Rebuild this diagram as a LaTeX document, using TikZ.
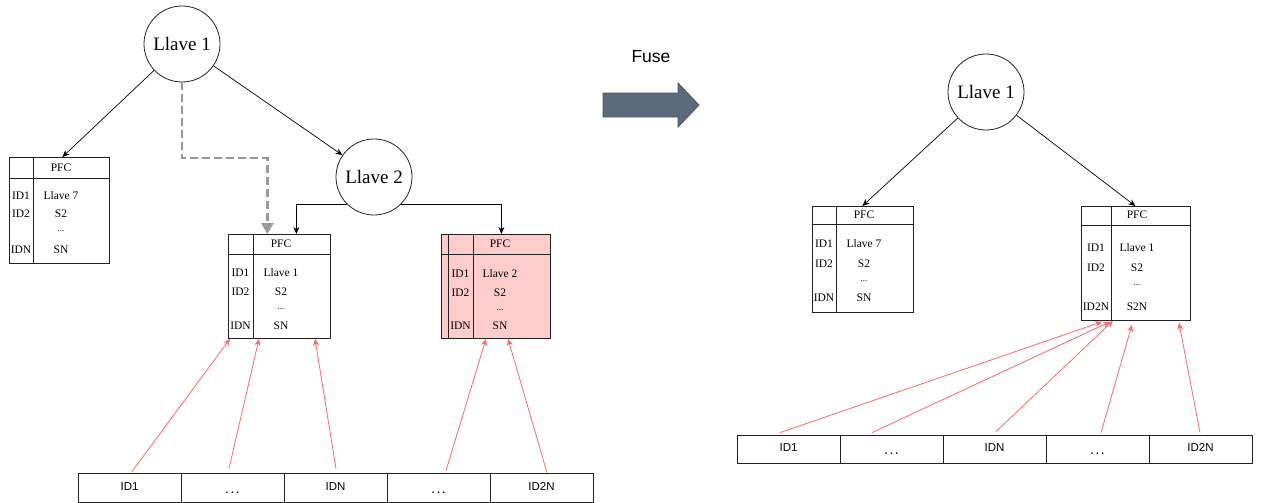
\documentclass[tikz,border=0pt]{standalone}
\usepackage{fontspec}
\setmainfont{Liberation Serif}
\setsansfont{Liberation Sans}
\usetikzlibrary{arrows.meta,calc}
\definecolor{redarr}{RGB}{255,102,102}
\definecolor{pinkfill}{RGB}{255,204,204}
\definecolor{tblline}{RGB}{34,34,34}
\definecolor{dashgray}{RGB}{153,153,153}
\definecolor{fusefill}{RGB}{91,107,124}
\definecolor{fuseline}{RGB}{70,85,100}
\newcommand{\celldots}{\raisebox{-3pt}{\fontsize{14}{16}\selectfont .\kern1.5pt.\kern1.5pt.}}
\begin{document}
\begin{tikzpicture}[x=1pt,y=-1pt,
  keynode/.style={circle,draw=tblline,line width=0.8pt,minimum size=76pt,inner sep=0pt,font=\fontsize{19}{22}\selectfont},
  tbl/.style={draw=tblline,line width=0.8pt,anchor=north west,inner sep=0pt},
  tline/.style={draw=tblline,line width=0.8pt},
  ttext/.style={font=\fontsize{11.5}{13}\selectfont,inner sep=0pt},
  tdots/.style={font=\fontsize{9}{10}\selectfont,inner sep=0pt},
  cell/.style={draw=tblline,line width=0.8pt,minimum width=103pt,minimum height=29pt,inner sep=0pt,text height=8pt,text depth=2.5pt,font=\sffamily\fontsize{11.5}{13}\selectfont},
  karrow/.style={draw=black,line width=0.7pt,-{Stealth[length=7pt,width=6pt]}},
  rarrow/.style={draw=redarr,line width=0.8pt,-{Stealth[length=7pt,width=6pt]}},
  garrow/.style={draw=dashgray,line width=2.8pt,dash pattern=on 8pt off 4pt,-{Triangle[length=11pt,width=12pt]}},
]
\useasboundingbox (0,0) rectangle (1264,503);

% ---- circles
\node[keynode] (L1) at (182,44) {Llave 1};
\node[keynode] (L2) at (374,177) {Llave 2};
\node[keynode] (R1) at (986,92) {Llave 1};

% ---- table T1
\node[tbl,minimum width=100pt,minimum height=106pt] (t1) at (9,157) {};
\draw[tline] (33,157) -- (33,263);
\draw[tline] (9,178) -- (109,178);
\node[ttext] (t1h) at (61,168) {PFC};
\node[ttext] (t1a) at (21,196) {ID1};
\node[ttext] (t1b) at (61,196) {Llave 7};
\node[ttext] (t1c) at (21,214) {ID2};
\node[ttext] (t1d) at (61,214) {S2};
\node[tdots] (t1e) at (61,231) {...};
\node[ttext] (t1f) at (21,250) {IDN};
\node[ttext] (t1g) at (61,250) {SN};

% ---- table T2
\node[tbl,minimum width=102pt,minimum height=104pt] (t2) at (228,234) {};
\draw[tline] (253,234) -- (253,338);
\draw[tline] (228,254) -- (330,254);
\node[ttext] (t2h) at (281,244) {PFC};
\node[ttext] (t2a) at (240.5,273) {ID1};
\node[ttext] (t2b) at (281,273) {Llave 1};
\node[ttext] (t2c) at (240.5,292) {ID2};
\node[ttext] (t2d) at (281,292) {S2};
\node[tdots] (t2e) at (281,309) {...};
\node[ttext] (t2f) at (240.5,326) {IDN};
\node[ttext] (t2g) at (281,326) {SN};

% ---- table T3 (pink)
\node[tbl,fill=pinkfill,minimum width=109pt,minimum height=104pt] (t3) at (441,234) {};
\draw[tline] (448,234) -- (448,338);
\draw[tline] (473,234) -- (473,338);
\draw[tline] (441,254) -- (550,254);
\node[ttext] (t3h) at (500,244) {PFC};
\node[ttext] (t3a) at (460.5,274) {ID1};
\node[ttext] (t3b) at (500,274) {Llave 2};
\node[ttext] (t3c) at (460.5,293) {ID2};
\node[ttext] (t3d) at (500,293) {S2};
\node[tdots] (t3e) at (500,310) {...};
\node[ttext] (t3f) at (460.5,326) {IDN};
\node[ttext] (t3g) at (500,326) {SN};

% ---- table T4
\node[tbl,minimum width=101pt,minimum height=106pt] (t4) at (812,206) {};
\draw[tline] (836,206) -- (836,312);
\draw[tline] (812,224) -- (913,224);
\node[ttext] (t4h) at (864,215) {PFC};
\node[ttext] (t4a) at (824,244) {ID1};
\node[ttext] (t4b) at (864,244) {Llave 7};
\node[ttext] (t4c) at (824,264) {ID2};
\node[ttext] (t4d) at (864,264) {S2};
\node[tdots] (t4e) at (864,281) {...};
\node[ttext] (t4f) at (824,298) {IDN};
\node[ttext] (t4g) at (864,298) {SN};

% ---- table T5
\node[tbl,minimum width=109pt,minimum height=114pt] (t5) at (1081,206) {};
\draw[tline] (1111,206) -- (1111,320);
\draw[tline] (1081,225) -- (1190,225);
\node[ttext] (t5h) at (1137,215) {PFC};
\node[ttext] (t5a) at (1096,248) {ID1};
\node[ttext] (t5b) at (1137,248) {Llave 1};
\node[ttext] (t5c) at (1096,268) {ID2};
\node[ttext] (t5d) at (1137,268) {S2};
\node[tdots] (t5e) at (1137,285) {...};
\node[ttext] (t5f) at (1096,307) {ID2N};
\node[ttext] (t5g) at (1137,307) {S2N};

% ---- left array
\node[cell] (l1) at (129.5,487.5) {ID1};
\node[cell] (l2) at (232.5,487.5) {\celldots};
\node[cell] (l3) at (335.5,487.5) {IDN};
\node[cell] (l4) at (438.5,487.5) {\celldots};
\node[cell] (l5) at (541.5,487.5) {ID2N};

% ---- right array
\node[cell,minimum height=28pt] (r1) at (788.5,449) {ID1};
\node[cell,minimum height=28pt] (r2) at (891.5,449) {\celldots};
\node[cell,minimum height=28pt] (r3) at (994.5,449) {IDN};
\node[cell,minimum height=28pt] (r4) at (1097.5,449) {\celldots};
\node[cell,minimum height=28pt] (r5) at (1200.5,449) {ID2N};

% ---- Fuse arrow
\node[font=\sffamily\fontsize{17.5}{20}\selectfont] (fuse) at (651,57) {Fuse};
\path[fill=fusefill,draw=fuseline,line width=0.8pt] (603,93) -- (678,93) -- (678,83) -- (699,105) -- (678,127) -- (678,117) -- (603,117) -- cycle;

% ---- black connectors
\draw[karrow] (L1) -- ($(t1.north)+(3,0)$);
\draw[karrow] (L1) -- (L2);
\draw[karrow] (L2.-135) -| ($(t2.north)+(17,0)$);
\draw[karrow] (L2.-45) -| ($(t3.north)+(5.5,0)$);
\draw[karrow] (R1) -- ($(t4.north)+(-0.5,0)$);
\draw[karrow] (R1) -- ($(t5.north)+(-0.5,0)$);

% ---- dashed gray connector
\draw[garrow] (L1.south) |- ($(t2.north)+(-12,-76)$) -- ($(t2.north)+(-12,0)$);

% ---- red connectors (left)
\draw[rarrow] ($(l1.north)+(2.5,-1)$) -- ($(t2.south west)+(2,0)$);
\draw[rarrow] ($(l2.north)+(-3.5,-4)$) -- ($(t2.south west)+(31,0)$);
\draw[rarrow] ($(l3.north)+(0.5,-4)$) -- ($(t2.south west)+(87,0)$);
\draw[rarrow] ($(l4.north)+(7.5,-2)$) -- ($(t3.south west)+(45,0)$);
\draw[rarrow] ($(l5.north)+(5.5,0)$) -- ($(t3.south west)+(67,0)$);

% ---- red connectors (right)
\draw[rarrow] ($(r1.north)+(-8.5,-2)$) -- ($(t5.south west)+(21,1)$);
\draw[rarrow] ($(r2.north)+(-19.5,-2)$) -- ($(t5.south west)+(29,1)$);
\draw[rarrow] ($(r3.north)+(1.5,-3)$) -- ($(t5.south west)+(32,0)$);
\draw[rarrow] ($(r4.north)+(3.5,-2)$) -- ($(t5.south west)+(51,4)$);
\draw[rarrow] ($(r5.north)+(-0.5,-2)$) -- ($(t5.south west)+(98,2)$);
\end{tikzpicture}
\end{document}
